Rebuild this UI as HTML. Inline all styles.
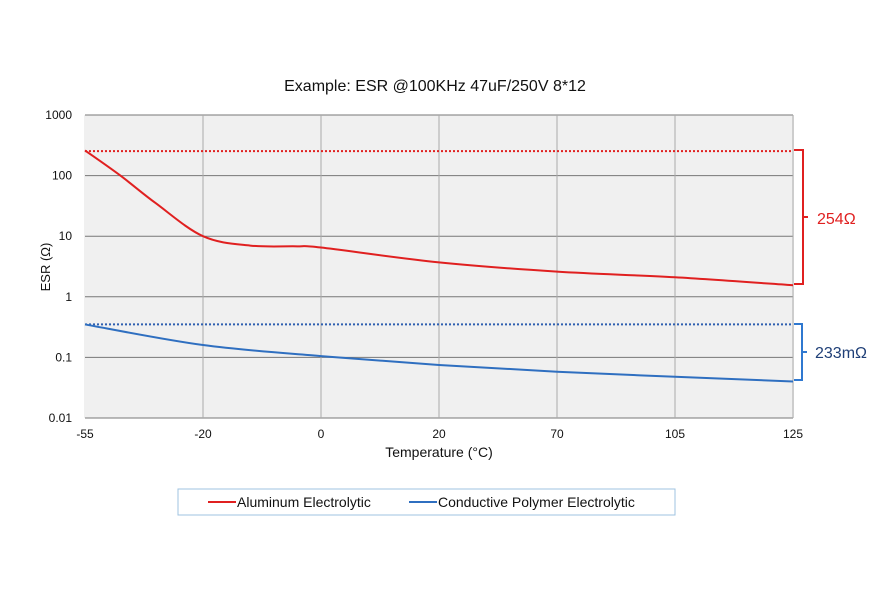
<!DOCTYPE html>
<html><head><meta charset="utf-8"><style>
body{margin:0;background:#fff;font-family:"Liberation Sans",Arial,sans-serif}
svg text{font-family:"Liberation Sans",Arial,sans-serif}
</style></head><body>
<svg id="chart" width="880" height="584" viewBox="0 0 880 584" xmlns="http://www.w3.org/2000/svg">
<rect width="880" height="584" fill="#fff"/>
<text x="435" y="91" text-anchor="middle" font-size="16" fill="#111">Example: ESR @100KHz 47uF/250V 8*12</text>
<rect x="84" y="115" width="710" height="303" fill="#f0f0f0"/>
<g id="grid"></g>
<g id="series"></g>
<text transform="translate(50,267) rotate(-90)" text-anchor="middle" font-size="13" fill="#111">ESR (Ω)</text>
<text x="439" y="457" text-anchor="middle" font-size="14" fill="#111">Temperature (°C)</text>
<path d="M794 150 H803 V284 H794 M803 217 H808" stroke="#e02020" stroke-width="2" fill="none"/>
<text x="817" y="224" font-size="16" fill="#e02020">254Ω</text>
<path d="M794 324 H802 V380 H794 M802 352 H807" stroke="#2f78d0" stroke-width="2" fill="none"/>
<text x="815" y="358" font-size="16" fill="#1f3f77">233mΩ</text>
<g>
<rect x="178" y="489" width="497" height="26" fill="#fff" stroke="#9fc3e0" stroke-width="1"/>
<line x1="208" y1="502" x2="236" y2="502" stroke="#e02020" stroke-width="2"/>
<text x="237" y="507" font-size="14" fill="#111">Aluminum Electrolytic</text>
<line x1="409" y1="502" x2="437" y2="502" stroke="#2f6fc0" stroke-width="2"/>
<text x="438" y="507" font-size="14" fill="#111">Conductive Polymer Electrolytic</text>
</g>
</svg>
<script>
const categories=["-55","-20","0","20","70","105","125"];
const yTicks=[1000,100,10,1,0.1,0.01];
const yTickLabels=["1000","100","10","1","0.1","0.01"];
const redPos=[0,0.3,0.6,1,1.4,1.8,2,3,4,5,6];
const redVals=[260,100,35,10,7,6.8,6.5,3.7,2.6,2.1,1.55];
const bluePos=[0,1,2,3,4,5,6];
const blueVals=[0.35,0.16,0.105,0.075,0.058,0.048,0.04];
const redRef=254;
const blueRef=0.35;
const NS="http://www.w3.org/2000/svg";
const X0=85,X1=793,Ytop=115,Ybot=418;
function x(i){return X0+(X1-X0)*i/(categories.length-1);}
function y(v){return Ytop+(3-Math.log10(v))/5*(Ybot-Ytop);}
function mk(t,a,p){const e=document.createElementNS(NS,t);for(const k in a)e.setAttribute(k,a[k]);p.appendChild(e);return e;}
const grid=document.getElementById('grid');
yTicks.forEach((v,i)=>{
 const l=mk('line',{x1:X0,x2:X1,y1:y(v),y2:y(v),stroke:'#777','stroke-width':1},grid);
 
 
 const t=mk('text',{x:X0-13,y:y(v)+4,'text-anchor':'end','font-size':12,fill:'#111'},grid);
 t.textContent=yTickLabels[i];
 
 
});
categories.forEach((c,i)=>{
 if(i>0){const l=mk('line',{x1:x(i),x2:x(i),y1:Ytop,y2:Ybot,stroke:'#aaa','stroke-width':1},grid);
 
 }
 const t=mk('text',{x:x(i),y:Ybot+20,'text-anchor':'middle','font-size':12,fill:'#111'},grid);
 t.textContent=c;
 
 
});
function spline(pts){let d=`M${pts[0][0]},${pts[0][1]}`;
 for(let i=0;i<pts.length-1;i++){const p0=pts[i-1]||pts[i],p1=pts[i],p2=pts[i+1],p3=pts[i+2]||p2;
 const c1=[p1[0]+(p2[0]-p0[0])/6,p1[1]+(p2[1]-p0[1])/6],c2=[p2[0]-(p3[0]-p1[0])/6,p2[1]-(p3[1]-p1[1])/6];
 d+=` C${c1[0]},${c1[1]} ${c2[0]},${c2[1]} ${p2[0]},${p2[1]}`;}return d;}
const s=document.getElementById('series');
let r=mk('line',{x1:X0,x2:X1,y1:y(redRef),y2:y(redRef),stroke:'#e02020','stroke-width':2,'stroke-dasharray':'2,2'},s);


let b=mk('line',{x1:X0,x2:X1,y1:y(blueRef),y2:y(blueRef),stroke:'#2f5fb0','stroke-width':2,'stroke-dasharray':'2,2'},s);


let rp=mk('path',{d:spline(redPos.map((p,i)=>[x(p),y(redVals[i])])),stroke:'#e02020','stroke-width':2,fill:'none'},s);


let bp=mk('path',{d:spline(bluePos.map((p,i)=>[x(p),y(blueVals[i])])),stroke:'#2f6fc0','stroke-width':2,fill:'none'},s);


</script>
</body></html>
